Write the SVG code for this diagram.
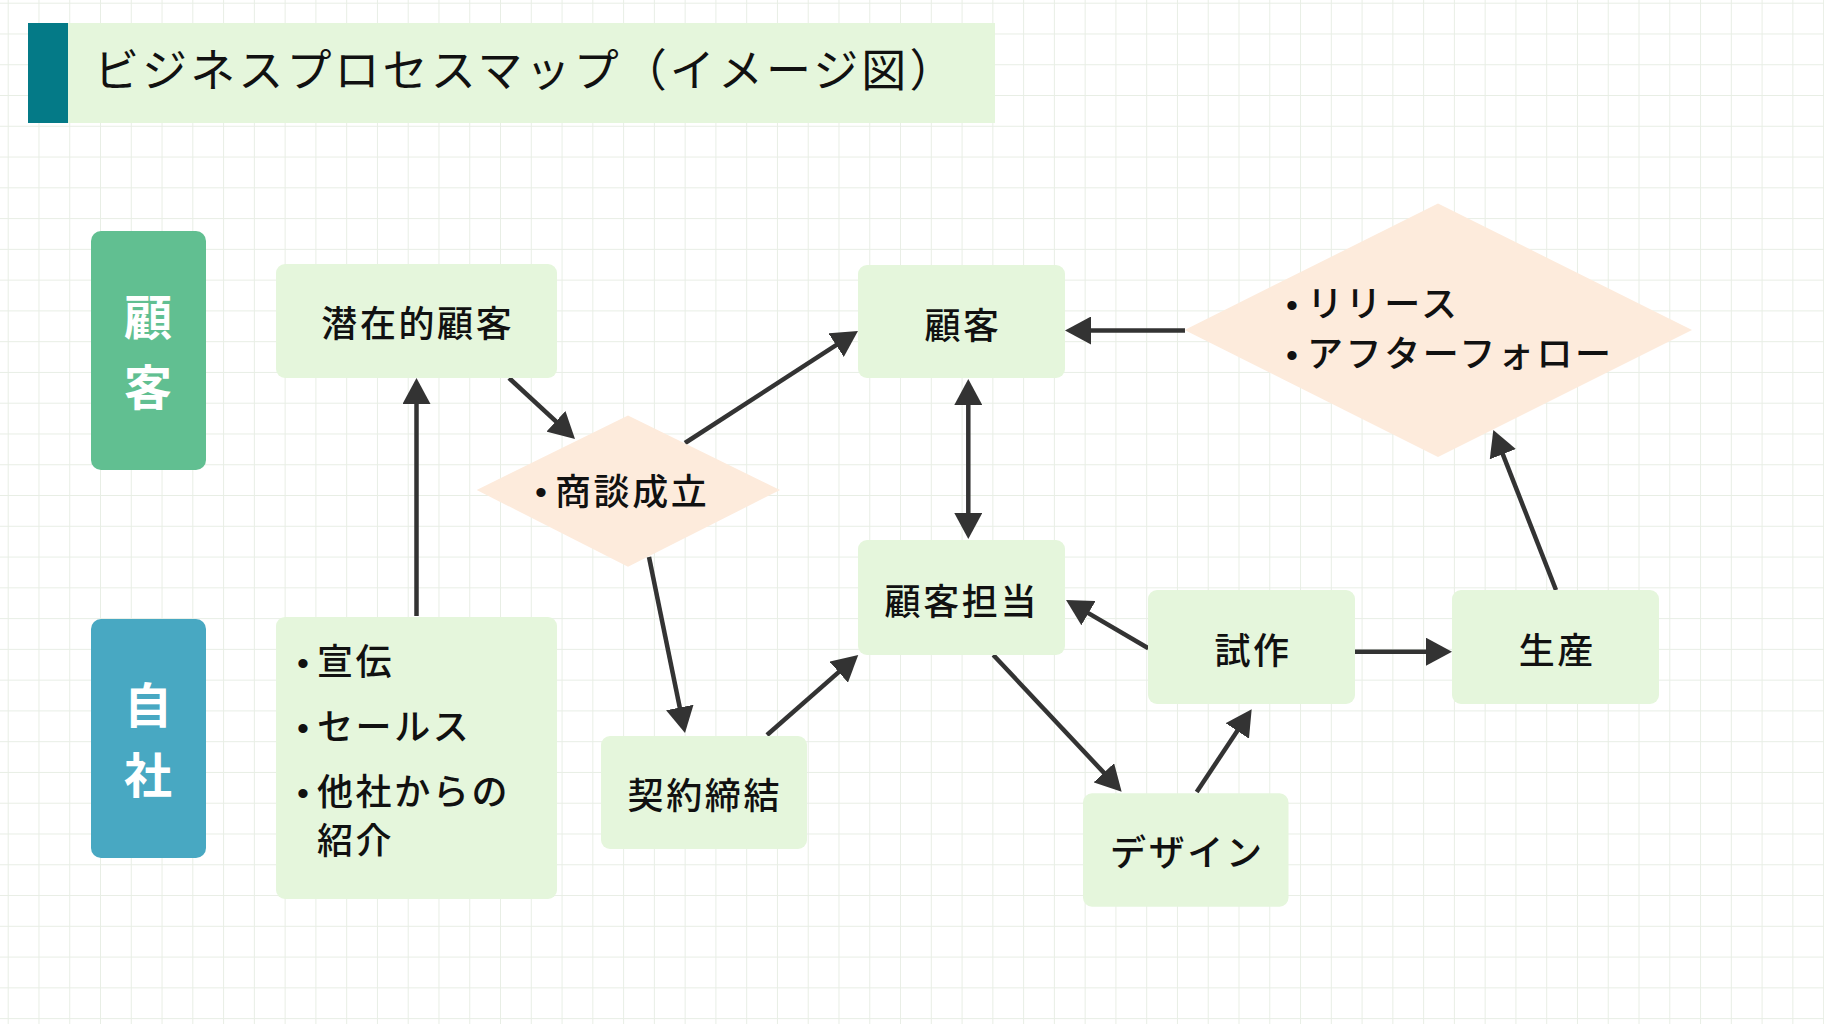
<svg xmlns="http://www.w3.org/2000/svg" width="1824" height="1024" viewBox="0 0 1824 1024">
<defs>
<pattern id="grid" patternUnits="userSpaceOnUse" x="7.7" y="2.7" width="30.77" height="30.77">
<path d="M0,0.5 H30.77 M0.5,0 V30.77" fill="none" stroke="#e8eee5" stroke-width="1"/>
</pattern>
<marker id="ah" viewBox="0 0 26 28" refX="17" refY="14" markerWidth="26" markerHeight="28" markerUnits="userSpaceOnUse" orient="auto-start-reverse">
<path d="M0,0 L26,14 L0,28 Z" fill="#333333"/>
</marker>
<style>
.box{fill:#e5f6dc;}
.dia{fill:#fdebdc;}
.t{font-family:"Noto Sans CJK JP","Noto Sans",sans-serif;font-size:36px;font-weight:500;fill:#111111;letter-spacing:2.6px;}
.c{text-anchor:middle;}
.b{font-family:"Liberation Sans",sans-serif;font-size:34px;fill:#111111;}
.lane{font-family:"Noto Sans CJK JP",sans-serif;font-size:48px;font-weight:700;fill:#ffffff;text-anchor:middle;}
.ln{fill:none;stroke:#333333;stroke-width:4.5;marker-end:url(#ah);}
</style>
</defs>
<rect width="1824" height="1024" fill="#ffffff"/>
<rect width="1824" height="1024" fill="url(#grid)"/>

<g id="title">
<rect x="67" y="23" width="928" height="100" fill="#e5f6dc"/>
<rect x="28" y="23" width="40" height="100" fill="#047a87"/>
<text x="94" y="87" font-family="'Noto Sans CJK JP',sans-serif" font-size="45" font-weight="400" letter-spacing="3.1" fill="#111111">ビジネスプロセスマップ（イメージ図）</text>
</g>

<g id="lane-customer">
<rect x="91" y="231" width="115" height="239" rx="10" fill="#61bf91"/>
<text class="lane" x="148" y="335">顧</text>
<text class="lane" x="148" y="405">客</text>
</g>
<g id="lane-company">
<rect x="91" y="619" width="115" height="239" rx="10" fill="#48a8c2"/>
<text class="lane" x="148" y="722.5">自</text>
<text class="lane" x="148" y="793">社</text>
</g>

<g id="connectors">
<line class="ln" x1="416.5" y1="616" x2="416.5" y2="387"/>
<line class="ln" x1="509" y1="378" x2="568.4" y2="432.9"/>
<line class="ln" x1="685" y1="443" x2="850.4" y2="335.9"/>
<line class="ln" x1="649" y1="557" x2="683.2" y2="724.2"/>
<line class="ln" x1="767" y1="735" x2="851.5" y2="660.9"/>
<line class="ln" x1="968.3" y1="388" x2="968.3" y2="530" style="marker-start:url(#ah)"/>
<line class="ln" x1="1185" y1="330.5" x2="1074" y2="330.5"/>
<line class="ln" x1="1148.3" y1="648.3" x2="1073.8" y2="604.6"/>
<line class="ln" x1="993.3" y1="655" x2="1115.5" y2="785.1"/>
<line class="ln" x1="1196.7" y1="792" x2="1246.7" y2="716.8"/>
<line class="ln" x1="1355" y1="651.7" x2="1443" y2="651.7"/>
<line class="ln" x1="1556" y1="590" x2="1496.6" y2="438.4"/>
</g>

<g id="node-senzai">
<rect class="box" x="276" y="264" width="281" height="114" rx="9"/>
<text class="t c" x="417.8" y="337.2">潜在的顧客</text>
</g>

<g id="node-senden">
<rect class="box" x="276" y="617" width="281" height="282" rx="9"/>
<text class="b" x="297" y="675">•</text>
<text class="t" x="317" y="674.7">宣伝</text>
<text class="b" x="297" y="740">•</text>
<text class="t" x="317" y="739.7">セールス</text>
<text class="b" x="297" y="805">•</text>
<text class="t" x="317" y="804.7">他社からの</text>
<text class="t" x="317" y="853.7">紹介</text>
</g>

<g id="node-shodan">
<polygon class="dia" points="476.7,490 628,415.5 780,490 628,566.7"/>
<text class="b" x="535" y="504">•</text>
<text class="t" x="555" y="504.7">商談成立</text>
</g>

<g id="node-keiyaku">
<rect class="box" x="601" y="736" width="206" height="113" rx="9"/>
<text class="t c" x="704.8" y="808.7">契約締結</text>
</g>

<g id="node-kokyaku">
<rect class="box" x="858" y="265" width="207" height="113" rx="9"/>
<text class="t c" x="963" y="338.7">顧客</text>
</g>

<g id="node-tanto">
<rect class="box" x="858" y="540" width="207" height="115" rx="9"/>
<text class="t c" x="961.8" y="614.7">顧客担当</text>
</g>

<g id="node-release">
<polygon class="dia" points="1184.6,330 1438,203.5 1692,330 1438,457"/>
<text class="b" x="1286" y="317">•</text>
<text class="t" x="1307" y="317">リリース</text>
<text class="b" x="1286" y="367">•</text>
<text class="t" x="1307" y="367">アフターフォロー</text>
</g>

<g id="node-shisaku">
<rect class="box" x="1148" y="590" width="207" height="114" rx="9"/>
<text class="t c" x="1253" y="663.7">試作</text>
</g>

<g id="node-seisan">
<rect class="box" x="1452" y="590" width="207" height="114" rx="9"/>
<text class="t c" x="1557.3" y="663.7">生産</text>
</g>

<g id="node-design">
<rect class="box" x="1083" y="793.3" width="205.5" height="113.4" rx="9"/>
<text class="t c" x="1187.3" y="866.2">デザイン</text>
</g>
</svg>
